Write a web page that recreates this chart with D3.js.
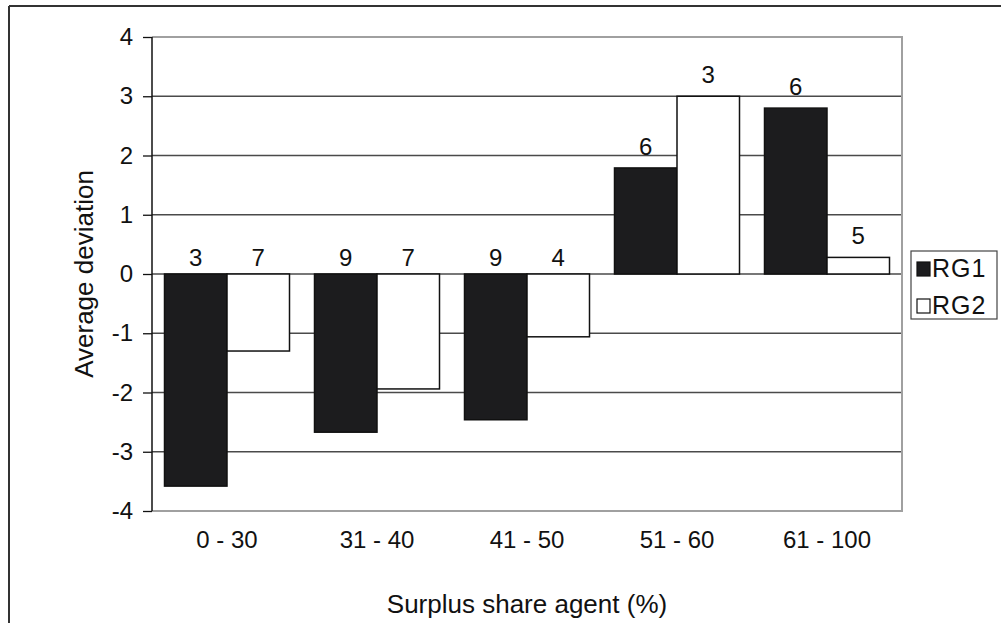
<!DOCTYPE html>
<html>
<head>
<meta charset="utf-8">
<script src="https://cdn.jsdelivr.net/npm/d3@7"></script>
<style>
  html, body { margin: 0; padding: 0; background: #fff; }
  svg { display: block; font-family: "Liberation Sans", Arial, Helvetica, sans-serif; }
</style>
</head>
<body>
<svg id="chart" width="1001" height="623"></svg>
<script>
// ---- data ----
const categories = ["0 - 30", "31 - 40", "41 - 50", "51 - 60", "61 - 100"];
const seriesNames = ["RG1", "RG2"];
const rg1Values = [-3.58, -2.67, -2.46, 1.79, 2.80];
const rg2Values = [-1.30, -1.94, -1.06, 3.00, 0.28];
const rg1Counts = [3, 9, 9, 6, 6];
const rg2Counts = [7, 7, 4, 3, 5];
const yTicks = [-4, -3, -2, -1, 0, 1, 2, 3, 4];
const xTitle = "Surplus share agent (%)";
const yTitle = "Average deviation";

const seriesFill = { RG1: "#1c1c1e", RG2: "#ffffff" };

const rows = categories.map((c, i) => ({
  cat: c,
  bars: [
    { s: "RG1", v: rg1Values[i], n: rg1Counts[i] },
    { s: "RG2", v: rg2Values[i], n: rg2Counts[i] }
  ]
}));

// ---- layout ----
const svg = d3.select("#chart");
const plot = { left: 152, right: 902, top: 37, bottom: 511 };

const x = d3.scaleBand().domain(categories).range([plot.left, plot.right])
  .paddingInner(1 / 6).paddingOuter(1 / 12);
const xs = d3.scaleBand().domain(seriesNames).range([0, x.bandwidth()]);
const y = d3.scaleLinear().domain([-4, 4]).range([plot.bottom, plot.top]);

// outer frame (top + left only)
svg.append("line").attr("x1", 9).attr("x2", 1001).attr("y1", 6).attr("y2", 6)
  .attr("stroke", "#333").attr("stroke-width", 2);
svg.append("line").attr("x1", 9).attr("x2", 9).attr("y1", 6).attr("y2", 623)
  .attr("stroke", "#333").attr("stroke-width", 2);

// gridlines
svg.append("g").selectAll("line").data(yTicks.filter(t => t > -4 && t < 4)).join("line")
  .attr("x1", plot.left).attr("x2", plot.right)
  .attr("y1", d => y(d)).attr("y2", d => y(d))
  .attr("stroke", "#4a4a4a").attr("stroke-width", 1.3);

// plot border (top, right, bottom) in gray
svg.append("path")
  .attr("d", `M${plot.left},${plot.top}H${plot.right}V${plot.bottom}H${plot.left}`)
  .attr("fill", "none").attr("stroke", "#a0a0a0").attr("stroke-width", 2);

// bars
const groups = svg.append("g").selectAll("g").data(rows).join("g")
  .attr("transform", d => `translate(${x(d.cat)},0)`);
groups.selectAll("rect").data(d => d.bars).join("rect")
  .attr("x", d => xs(d.s))
  .attr("width", xs.bandwidth())
  .attr("y", d => y(Math.max(0, d.v)))
  .attr("height", d => Math.abs(y(d.v) - y(0)))
  .attr("fill", d => seriesFill[d.s])
  .attr("stroke", "#111").attr("stroke-width", 1.5);

// count labels
groups.selectAll("text").data(d => d.bars).join("text")
  .attr("x", d => xs(d.s) + xs.bandwidth() / 2)
  .attr("y", d => y(Math.max(0, d.v)) - (d.v > 0 ? 13 : 8))
  .attr("text-anchor", "middle")
  .attr("font-size", 24).attr("fill", "#111")
  .text(d => d.n);

// y axis
const yAxis = d3.axisLeft(y).tickValues(yTicks).tickSize(9).tickPadding(10)
  .tickFormat(d3.format("d"));
const ya = svg.append("g").attr("transform", `translate(${plot.left},0)`).call(yAxis);
ya.select(".domain").attr("stroke", "#111").attr("stroke-width", 1.5)
  .attr("d", `M0,${plot.top}V${plot.bottom}`);
ya.selectAll(".tick line").attr("stroke", "#111").attr("stroke-width", 1.3);
ya.selectAll(".tick text").attr("font-size", 24).attr("fill", "#111")
  .attr("font-family", "Liberation Sans, Arial, sans-serif")
  .text(d => d < 0 ? "-" + Math.abs(d) : d);

// x axis labels
const xAxis = d3.axisBottom(x).tickSize(0).tickPadding(0);
const xa = svg.append("g").attr("transform", `translate(0,${plot.bottom})`).call(xAxis);
xa.select(".domain").remove();
xa.selectAll(".tick text").attr("font-size", 24).attr("fill", "#111")
  .attr("font-family", "Liberation Sans, Arial, sans-serif")
  .attr("dy", null).attr("y", 37);

// axis titles
svg.append("text").attr("x", (plot.left + plot.right) / 2).attr("y", 613)
  .attr("text-anchor", "middle").attr("font-size", 26).attr("fill", "#111")
  .text(xTitle);
svg.append("text")
  .attr("transform", `translate(93,${(plot.top + plot.bottom) / 2}) rotate(-90)`)
  .attr("text-anchor", "middle").attr("font-size", 26).attr("fill", "#111")
  .text(yTitle);

// legend
const lg = svg.append("g");
lg.append("rect").attr("x", 911).attr("y", 251).attr("width", 86).attr("height", 68)
  .attr("fill", "#fff").attr("stroke", "#444").attr("stroke-width", 1.2);
const li = lg.selectAll("g").data(seriesNames).join("g")
  .attr("transform", (d, i) => `translate(917,${262 + i * 37})`);
li.append("rect").attr("width", 13).attr("height", 14)
  .attr("fill", d => seriesFill[d]).attr("stroke", "#111").attr("stroke-width", 1.2);
li.append("text").attr("x", 15).attr("y", 15).attr("font-size", 25)
  .attr("letter-spacing", 1).attr("fill", "#111")
  .text(d => d);
</script>
</body>
</html>
